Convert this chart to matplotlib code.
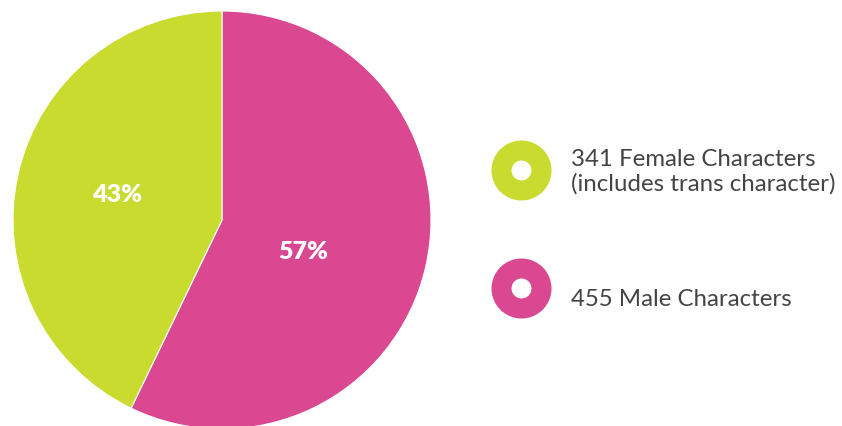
import matplotlib
matplotlib.use("Agg")
import matplotlib.pyplot as plt

# data
labels = ["455 Male Characters", "341 Female Characters\n(includes trans character)"]
counts = [455, 341]
colors = ["#D94891", "#C8DB2E"]

W, H = 842, 426
fig = plt.figure(figsize=(W / 100, H / 100), dpi=100)

# pie: centre (222, 220) px, radius ~209 px
R = 209
cx, cy = 222, 220
ax = fig.add_axes([(cx - R) / W, (H - cy - R) / H, 2 * R / W, 2 * R / H])
wedges, texts, autotexts = ax.pie(
    counts,
    colors=colors,
    startangle=90,
    counterclock=False,
    autopct="%1.0f%%",
    pctdistance=0.5,
    radius=1.0,
    wedgeprops=dict(edgecolor="white", linewidth=0.8),
    textprops=dict(color="white", fontsize=18, fontweight="heavy", family="Lato"),
)
# label placement tweaks (layout only)
label_pos = [(0.39, -0.155), (-0.50, 0.12)]
for t, p in zip(autotexts, label_pos):
    t.set_position(p)
ax.set_xlim(-1, 1)
ax.set_ylim(-1, 1)
ax.set_aspect("equal")
ax.axis("off")

# legend drawn by hand in pixel space
lax = fig.add_axes([0, 0, 1, 1])
lax.set_xlim(0, W)
lax.set_ylim(H, 0)
lax.axis("off")

rows = [(170, 172, 1), (288, 299, 0)]  # (ring y, text y, index)
for ry, ty, i in rows:
    lax.plot(521, ry, marker="o", markersize=28.8, markeredgewidth=14.4,
             markerfacecolor="white", markeredgecolor=colors[i], linestyle="none")
    lax.text(571, ty, labels[i], va="center", ha="left", fontsize=17.3,
             color="#444444", family="Lato", linespacing=1.15)

fig.savefig("out.png", dpi=100)
